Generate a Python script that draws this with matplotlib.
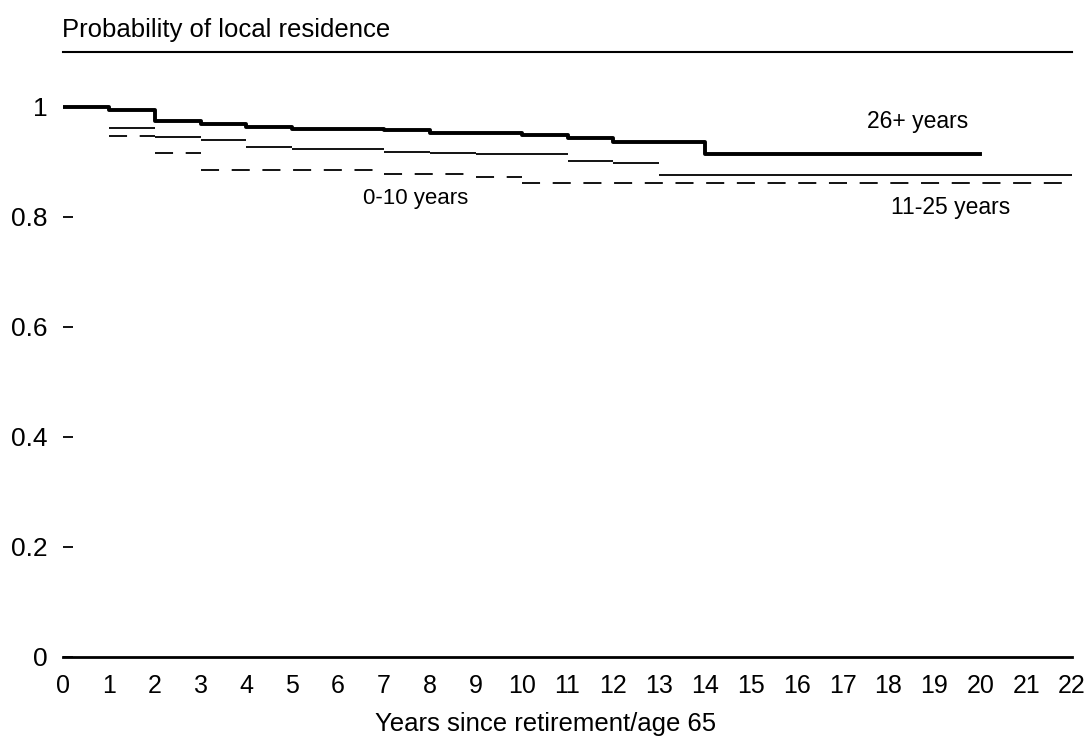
import numpy as np
import matplotlib
matplotlib.use('Agg')
from matplotlib import pyplot as plt

# Kaplan-Meier style step curves: probability of still living locally
# value on each interval [year_i, year_i+1)
years_26 = [0, 1, 2, 3, 4, 5, 7, 8, 10, 11, 12, 14, 20]
prob_26 = [1.0, 0.9945, 0.975, 0.969, 0.963, 0.960, 0.958, 0.952, 0.950, 0.943, 0.936, 0.915]

years_11 = [0, 1, 2, 3, 4, 5, 7, 8, 9, 11, 12, 13, 22]
prob_11 = [1.0, 0.961, 0.945, 0.940, 0.928, 0.923, 0.919, 0.917, 0.914, 0.902, 0.899, 0.876]

years_0 = [0, 1, 2, 3, 7, 9, 10, 22]
prob_0 = [1.0, 0.947, 0.916, 0.886, 0.878, 0.872, 0.862]

xticks = list(range(0, 23))
yticks = [0, 0.2, 0.4, 0.6, 0.8, 1]
ytick_labels = ['0', '0.2', '0.4', '0.6', '0.8', '1']

plt.rcParams['font.family'] = ['Liberation Sans', 'DejaVu Sans']

fig = plt.figure(figsize=(10.89, 7.39), dpi=100)
ax = fig.add_axes([63/1089, 1 - 657/739, 1009/1089, 605/739])

# 26+ group: full step curve with vertical drops
ax.step(years_26, list(prob_26) + [prob_26[-1]], where='post', color='k', lw=2.8)
# the other two groups only show the horizontal levels
ax.hlines(prob_11, years_11[:-1], years_11[1:], color='k', lw=1.3)
ax.hlines(prob_0, years_0[:-1], years_0[1:], color='k', lw=1.3,
          linestyles=(0, (10, 7)))

ax.text(18.64, 0.974, '26+ years', ha='center', va='center', fontsize=16.5)
ax.text(7.68, 0.833, '0-10 years', ha='center', va='center', fontsize=16)
ax.text(19.36, 0.818, '11-25 years', ha='center', va='center', fontsize=16.5)

ax.set_xlim(0, 22)
ax.set_ylim(0, 1.1)
ax.set_xticks(xticks)
ax.set_xticklabels([str(t) for t in xticks], fontsize=18)
ax.set_yticks(yticks)
ax.set_yticklabels(ytick_labels, fontsize=19)
ax.tick_params(axis='x', length=0, pad=12)
ax.tick_params(axis='y', direction='in', length=7, width=1.3, pad=11)

for s in ['left', 'right']:
    ax.spines[s].set_visible(False)
ax.spines['bottom'].set_linewidth(2.0)
ax.spines['top'].set_linewidth(1.5)

fig.text(546/1089, 1 - 724/739, 'Years since retirement/age 65', fontsize=18.5,
         ha='center', va='center')
fig.text(62/1089, 1 - 30/739, 'Probability of local residence', fontsize=18.5,
         ha='left', va='center')

fig.savefig('out.png', dpi=100)
